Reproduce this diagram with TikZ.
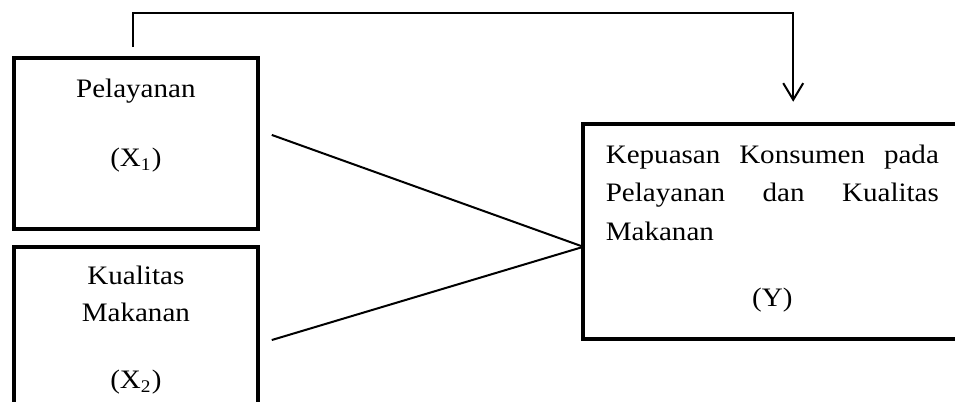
\documentclass[tikz,border=0pt]{standalone}
\usepackage{fontspec}
\setmainfont{Liberation Serif}[FakeStretch=1.09]
\usetikzlibrary{positioning, arrows.meta}
\hyphenpenalty=10000

\tikzset{
    kotak/.style={draw, line width=1.8pt, inner sep=0pt, outer sep=0pt},
    teks/.style={inner sep=0pt, outer sep=0pt, align=center, font={\fontsize{12pt}{17pt}\selectfont}},
    garis/.style={line width=0.9pt}
}

\begin{document}
\begin{tikzpicture}[scale=1]
    \useasboundingbox (0, 0) rectangle (15.11, 6.36);
    \clip (0, 0) rectangle (15.11, 6.36);

    \node[kotak, minimum width=3.86cm, minimum height=2.71cm] (x1) at (2.15, 4.09) {};
    \node[kotak, minimum width=3.86cm, minimum height=2.71cm] (x2) at (2.15, 1.10) {};
    \node[kotak, minimum width=5.98cm, minimum height=3.40cm] (y) at (12.22, 2.70) {};

    \node[teks, below=0.33cm of x1.north] (tx1) {Pelayanan\\[14pt](X\textsubscript{1})};
    \node[teks, below=0.31cm of x2.north] (tx2) {Kualitas\\[-0.5pt]Makanan\\[13pt](X\textsubscript{2})};
    \node[teks, align=justify, text width=5.27cm, below=0.33cm of y.north,
        font={\fontsize{12pt}{17.4pt}\selectfont}] (ty)
        {Kepuasan Konsumen pada\linebreak Pelayanan dan Kualitas\linebreak Makanan\par
        \vspace{12.3pt}\makebox[\linewidth]{(Y)}};

    \draw[garis] ([xshift=0.22cm, yshift=0.135cm]x1.east) -- ([yshift=-0.245cm]y.west);
    \draw[garis] ([xshift=0.22cm, yshift=-0.12cm]x2.east) -- ([yshift=-0.245cm]y.west);

    \draw[garis, -{Straight Barb[length=7.5pt, width=9pt]}] ([xshift=-0.05cm, yshift=0.17cm]x1.north)
        -- ++(0, 0.54) -| ([xshift=0.33cm, yshift=0.35cm]y.north);
\end{tikzpicture}
\end{document}
